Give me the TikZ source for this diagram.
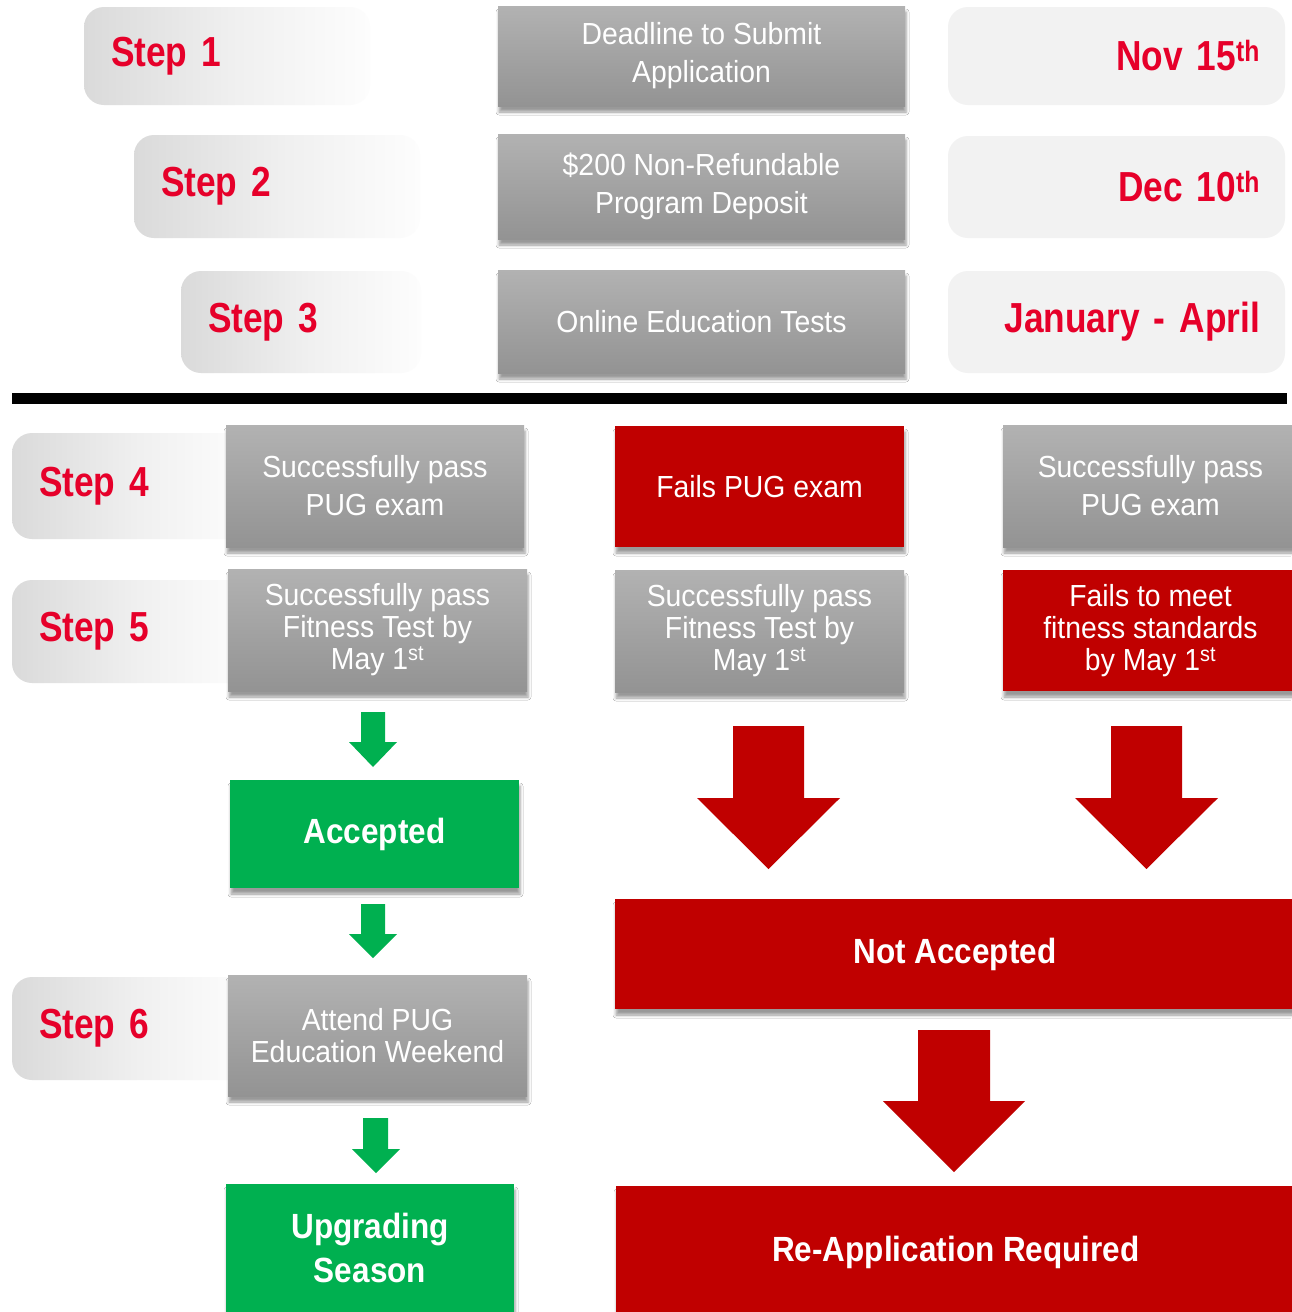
\documentclass[tikz,border=0pt]{standalone}
\usepackage{fontspec}
\setmainfont{Liberation Sans}
\newfontfamily\lightf[FakeStretch=0.93]{Liberation Sans}
\newfontfamily\heavyf[FakeStretch=0.9]{Liberation Sans Bold}
\newfontfamily\stepf[FakeStretch=0.84,WordSpace=0.55]{Liberation Sans Bold}
\usetikzlibrary{shadows.blur}
\definecolor{stepred}{HTML}{E6002A}
\definecolor{dred}{HTML}{C00000}
\definecolor{mygreen}{HTML}{00B050}
\definecolor{gtop}{HTML}{B2B2B2}
\definecolor{gbot}{HTML}{939393}
\definecolor{datebg}{HTML}{F2F2F2}
\definecolor{stepL}{HTML}{DADADA}
\definecolor{stepM}{HTML}{F0F0F0}
\definecolor{stepR}{HTML}{FDFDFD}
\pgfdeclarehorizontalshading{stepshade}{100bp}{color(0bp)=(stepL); color(25bp)=(stepL); color(52bp)=(stepM); color(75bp)=(stepR); color(100bp)=(stepR)}
\tikzset{
  base/.style={inner sep=0pt, outer sep=0pt},
  softshadow/.style={blur shadow={shadow xshift=1pt, shadow yshift=-6pt, shadow blur radius=3pt, shadow opacity=40}},
  stepbox/.style={base, rounded corners=20pt, shading=stepshade, text=stepred,
    font=\stepf\fontsize{42}{46}\selectfont, align=left, anchor=north west, inner xsep=27pt},
  datebox/.style={base, rounded corners=20pt, fill=datebg, text=stepred,
    font=\stepf\fontsize{42}{46}\selectfont, align=right, anchor=north west, inner xsep=25pt},
  graybox/.style={base, top color=gtop, bottom color=gbot, text=white, softshadow,
    font=\lightf\fontsize{30.5}{38}\selectfont, align=center, anchor=north west},
  graythree/.style={graybox, font=\lightf\fontsize{30.5}{32}\selectfont},
  redbox/.style={base, fill=dred, text=white, softshadow,
    font=\lightf\fontsize{30.5}{32}\selectfont, align=center, anchor=north west},
  bigbox/.style={base, text=white, softshadow,
    font=\heavyf\fontsize{35}{44}\selectfont, align=center, anchor=north west},
  blockarrow/.style={fill=#1, draw=none},
}
\newcommand\sups[1]{\textsuperscript{#1}}
\begin{document}
\begin{tikzpicture}[x=1pt,y=-1pt]
\useasboundingbox (0,0) rectangle (1291,1312);
\fill[white] (0,0) rectangle (1291,1312);

% ---------- top section ----------
\node[stepbox, minimum width=286, minimum height=98, text width=232] (s1) at (84,7) {Step 1};
\node[stepbox, minimum width=286, minimum height=103, text width=232] (s2) at (134,135) {Step 2};
\node[stepbox, minimum width=240, minimum height=102, text width=186] (s3) at (181,271) {Step 3};

\node[graybox, minimum width=407, minimum height=100] (g1) at (498,6) {Deadline to Submit\\Application};
\node[graybox, minimum width=407, minimum height=105] (g2) at (498,134) {\$200 Non-Refundable\\Program Deposit};
\node[graybox, minimum width=407, minimum height=103] (g3) at (498,270) {Online Education Tests};

\node[datebox, minimum width=337, minimum height=98, text width=287] (d1) at (948,7) {Nov 15\sups{th}};
\node[datebox, minimum width=337, minimum height=102, text width=287] (d2) at (948,136) {Dec 10\sups{th}};
\node[datebox, minimum width=337, minimum height=102, text width=287] (d3) at (948,271) {January - April};

% separator
\fill[black] (12,393) rectangle (1287,404);

% ---------- lower section ----------
\node[stepbox, minimum width=235, minimum height=106, text width=181] (s4) at (12,433) {Step 4};
\node[stepbox, minimum width=235, minimum height=103, text width=181] (s5) at (12,580) {Step 5};
\node[stepbox, minimum width=235, minimum height=103, text width=181] (s6) at (12,977) {Step 6};

\node[graybox, minimum width=298, minimum height=122] (g4) at (226,425) {Successfully pass\\PUG exam};
\node[redbox, minimum width=289, minimum height=121] (r4) at (615,426) {Fails PUG exam};
\node[graybox, minimum width=295, minimum height=122] (g4r) at (1003,425) {Successfully pass\\PUG exam};

\node[graythree, minimum width=299, minimum height=122] (g5) at (228,569) {Successfully pass\\Fitness Test by\\May 1\sups{st}};
\node[graythree, minimum width=289, minimum height=122] (g5m) at (615,570) {Successfully pass\\Fitness Test by\\May 1\sups{st}};
\node[redbox, minimum width=295, minimum height=121] (r5r) at (1003,570) {Fails to meet\\fitness standards\\by May 1\sups{st}};

\node[bigbox, fill=mygreen, minimum width=289, minimum height=108] (acc) at (230,780) {Accepted};
\node[graythree, minimum width=299, minimum height=121] (g6) at (228,975) {Attend PUG\\Education Weekend};
\node[bigbox, fill=mygreen, minimum width=288, minimum height=128] (ups) at (226,1184) {Upgrading\\Season};

\node[bigbox, fill=dred, minimum width=680, minimum height=110] (nacc) at (615,899) {Not Accepted};
\node[bigbox, fill=dred, minimum width=680, minimum height=132] (reap) at (616,1186) {Re-Application Required};

% ---------- block arrows ----------
\fill[blockarrow=mygreen] (361,712) -- (385,712) -- (385,742) -- (397,742) -- (373,767) -- (349,742) -- (361,742) -- cycle;
\fill[blockarrow=mygreen] (361,904) -- (385,904) -- (385,934) -- (397,934) -- (373,958) -- (349,934) -- (361,934) -- cycle;
\fill[blockarrow=mygreen] (363,1118) -- (388,1118) -- (388,1149) -- (400,1149) -- (376,1173) -- (352,1149) -- (363,1149) -- cycle;

\fill[blockarrow=dred] (733,726) -- (804,726) -- (804,798) -- (840,798) -- (768.5,869) -- (697,798) -- (733,798) -- cycle;
\fill[blockarrow=dred] (1111,726) -- (1182,726) -- (1182,798) -- (1218,798) -- (1146.5,869) -- (1075,798) -- (1111,798) -- cycle;
\fill[blockarrow=dred] (918,1030) -- (990,1030) -- (990,1101) -- (1025,1101) -- (954,1172) -- (883,1101) -- (918,1101) -- cycle;
\end{tikzpicture}
\end{document}
